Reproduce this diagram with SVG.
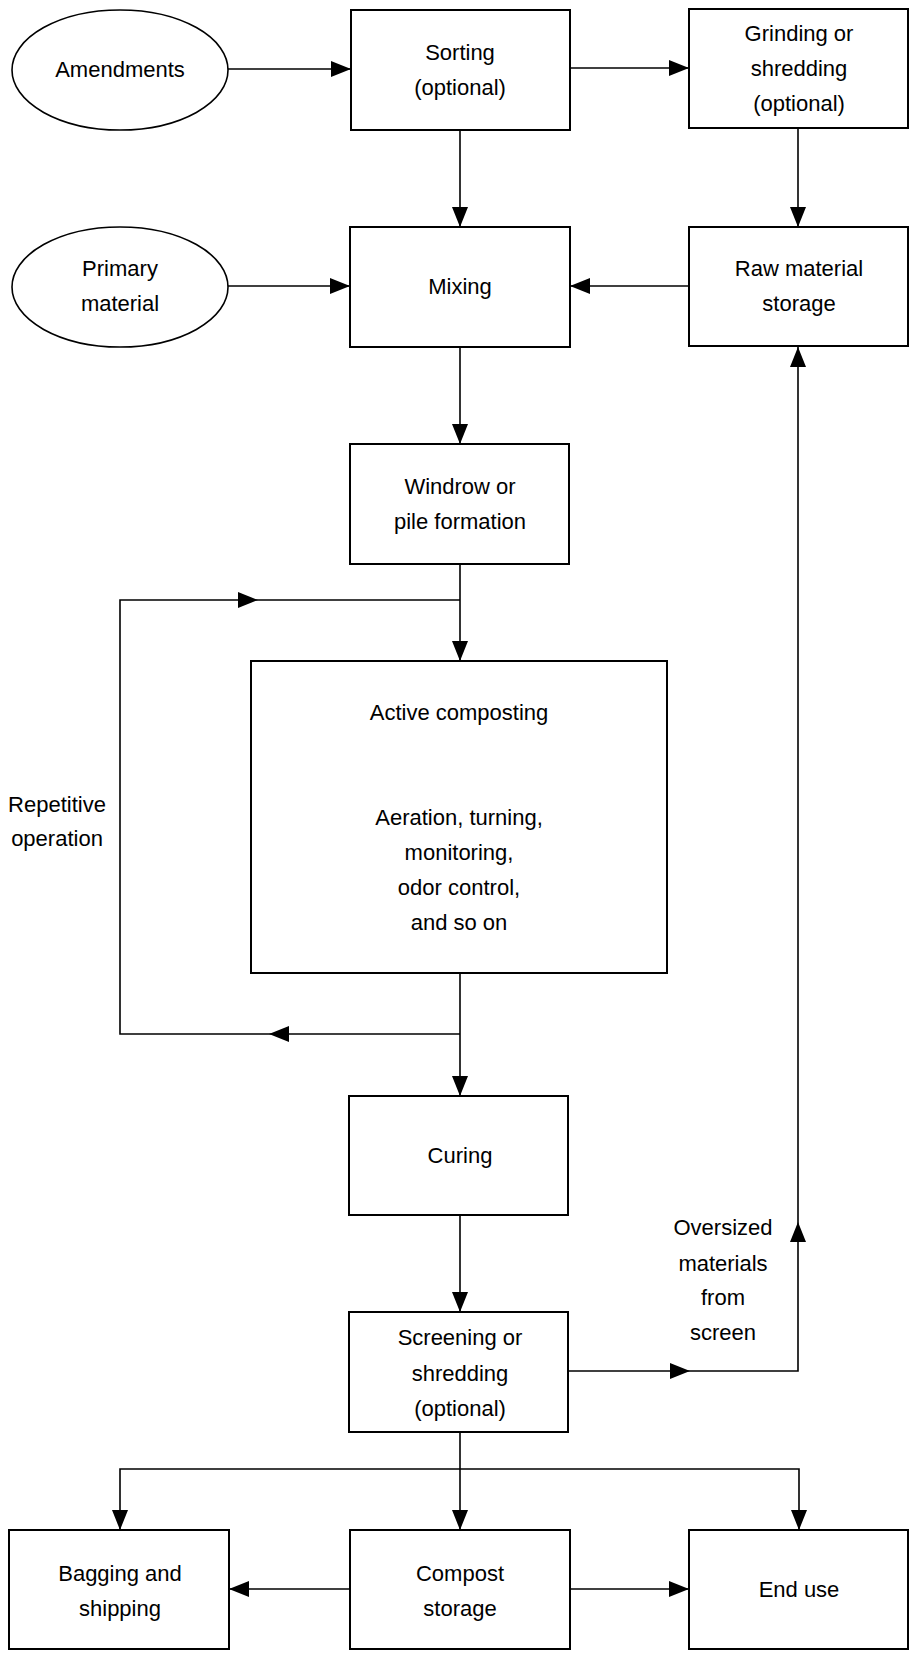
<svg xmlns="http://www.w3.org/2000/svg" width="912" height="1656" viewBox="0 0 912 1656">
<style>
.box{fill:#fff;stroke:#000;stroke-width:2}
.ell{fill:#fff;stroke:#000;stroke-width:1.6}
.ln{fill:none;stroke:#000;stroke-width:1.6}
text{font-family:"Liberation Sans",Arial,sans-serif;font-size:22px;fill:#000;text-anchor:middle}
</style>
<defs>
<marker id="ah" markerUnits="userSpaceOnUse" markerWidth="20" markerHeight="16" refX="20" refY="8" orient="auto">
<path d="M0,0 L20,8 L0,16 z" fill="#000"/>
</marker>
</defs>
<rect width="912" height="1656" fill="#fff"/>
<g id="connectors">
<path class="ln" d="M228,69 H351" marker-end="url(#ah)"/>
<path class="ln" d="M570,68 H689" marker-end="url(#ah)"/>
<path class="ln" d="M460,130 V227" marker-end="url(#ah)"/>
<path class="ln" d="M798,128 V227" marker-end="url(#ah)"/>
<path class="ln" d="M228,286 H350" marker-end="url(#ah)"/>
<path class="ln" d="M689,286 H570" marker-end="url(#ah)"/>
<path class="ln" d="M460,347 V444" marker-end="url(#ah)"/>
<path class="ln" d="M460,564 V661" marker-end="url(#ah)"/>
<path class="ln" d="M460,973 V1096" marker-end="url(#ah)"/>
<path class="ln" d="M460,1034 H269" marker-end="url(#ah)"/>
<path class="ln" d="M269,1034 H120 V600 H258" marker-end="url(#ah)"/>
<path class="ln" d="M258,600 H460"/>
<path class="ln" d="M460,1215 V1312" marker-end="url(#ah)"/>
<path class="ln" d="M568,1371 H690" marker-end="url(#ah)"/>
<path class="ln" d="M690,1371 H798 V1222" marker-end="url(#ah)"/>
<path class="ln" d="M798,1222 V347" marker-end="url(#ah)"/>
<path class="ln" d="M460,1432 V1530" marker-end="url(#ah)"/>
<path class="ln" d="M460,1469 H120 V1530" marker-end="url(#ah)"/>
<path class="ln" d="M460,1469 H799 V1530" marker-end="url(#ah)"/>
<path class="ln" d="M350,1589 H229" marker-end="url(#ah)"/>
<path class="ln" d="M570,1589 H689" marker-end="url(#ah)"/>
</g>
<g id="amendments"><ellipse class="ell" cx="120" cy="70" rx="108" ry="60"/><text x="120" y="77">Amendments</text></g>
<g id="sorting"><rect class="box" x="351" y="10" width="219" height="120"/><text x="460" y="60">Sorting</text><text x="460" y="95">(optional)</text></g>
<g id="grinding"><rect class="box" x="689" y="9" width="219" height="119"/><text x="799" y="41">Grinding or</text><text x="799" y="76">shredding</text><text x="799" y="111">(optional)</text></g>
<g id="primary"><ellipse class="ell" cx="120" cy="287" rx="108" ry="60"/><text x="120" y="276">Primary</text><text x="120" y="311">material</text></g>
<g id="mixing"><rect class="box" x="350" y="227" width="220" height="120"/><text x="460" y="294">Mixing</text></g>
<g id="rawstorage"><rect class="box" x="689" y="227" width="219" height="119"/><text x="799" y="276">Raw material</text><text x="799" y="311">storage</text></g>
<g id="windrow"><rect class="box" x="350" y="444" width="219" height="120"/><text x="460" y="494">Windrow or</text><text x="460" y="529">pile formation</text></g>
<g id="active"><rect class="box" x="251" y="661" width="416" height="312"/><text x="459" y="720">Active composting</text><text x="459" y="825">Aeration, turning,</text><text x="459" y="860">monitoring,</text><text x="459" y="895">odor control,</text><text x="459" y="930">and so on</text></g>
<g id="repetitive"><text x="57" y="812">Repetitive</text><text x="57" y="846">operation</text></g>
<g id="curing"><rect class="box" x="349" y="1096" width="219" height="119"/><text x="460" y="1163">Curing</text></g>
<g id="oversized"><text x="723" y="1235">Oversized</text><text x="723" y="1271">materials</text><text x="723" y="1305">from</text><text x="723" y="1340">screen</text></g>
<g id="screening"><rect class="box" x="349" y="1312" width="219" height="120"/><text x="460" y="1345">Screening or</text><text x="460" y="1381">shredding</text><text x="460" y="1416">(optional)</text></g>
<g id="bagging"><rect class="box" x="9" y="1530" width="220" height="119"/><text x="120" y="1581">Bagging and</text><text x="120" y="1616">shipping</text></g>
<g id="compost"><rect class="box" x="350" y="1530" width="220" height="119"/><text x="460" y="1581">Compost</text><text x="460" y="1616">storage</text></g>
<g id="enduse"><rect class="box" x="689" y="1530" width="219" height="119"/><text x="799" y="1597">End use</text></g>
</svg>
